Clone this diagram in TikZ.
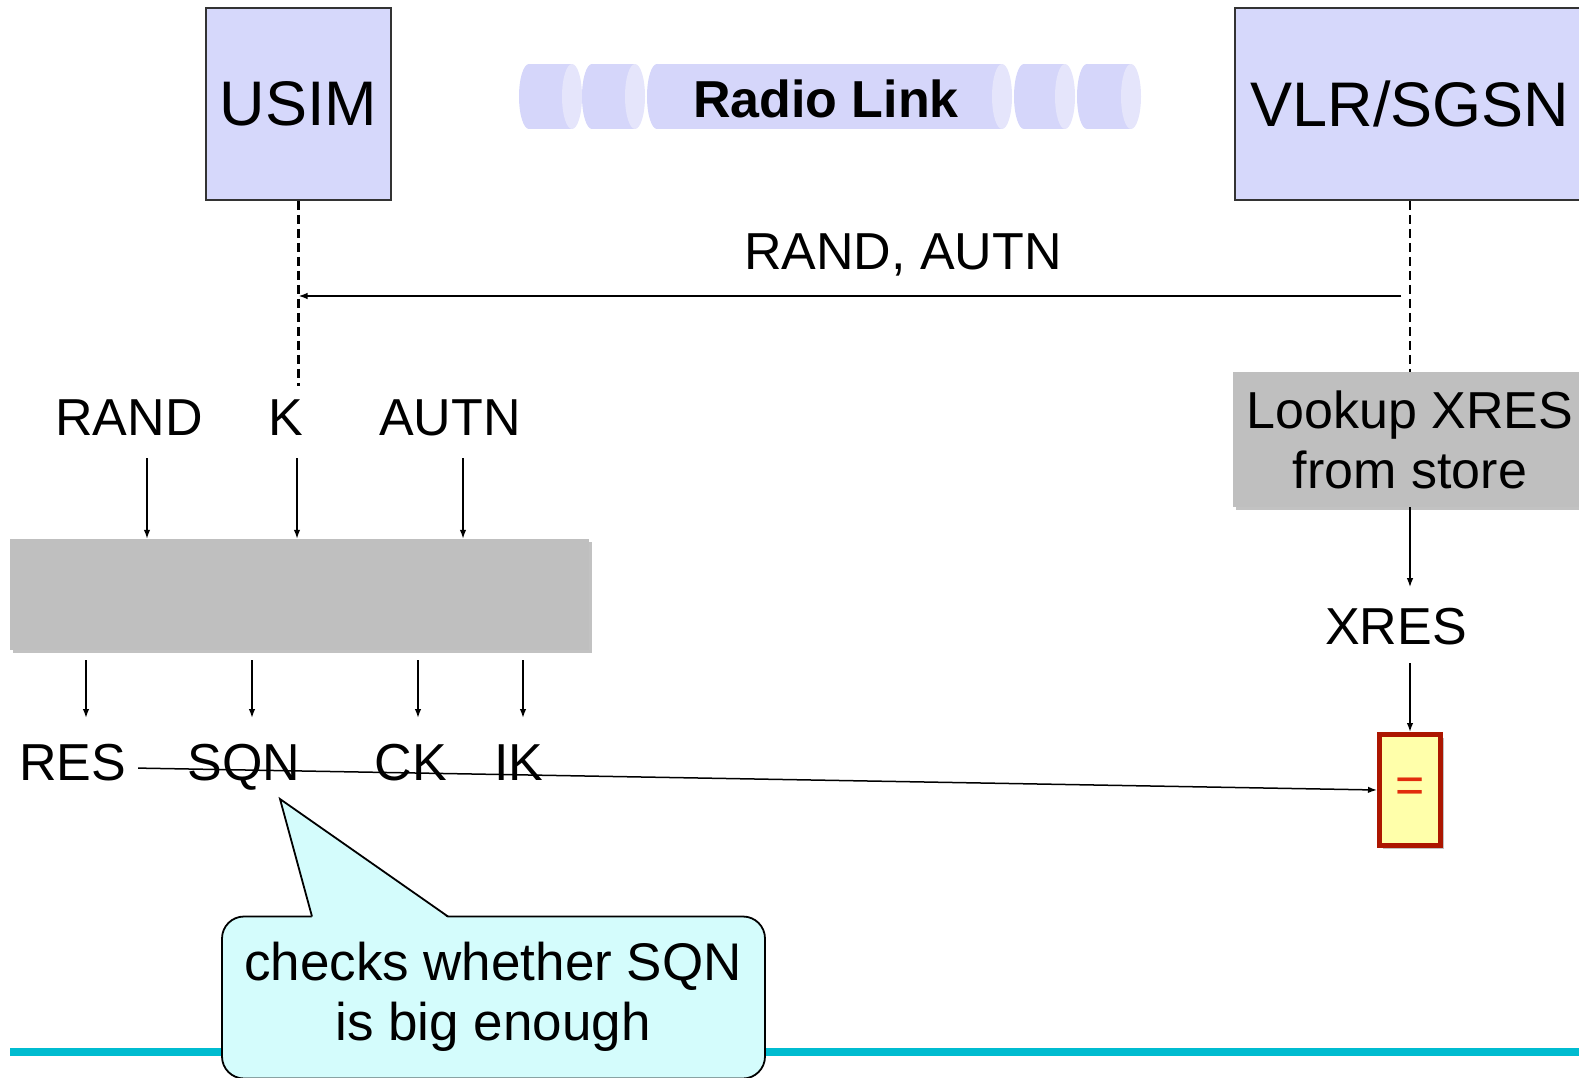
\documentclass[tikz,border=0pt]{standalone}
\usepackage{fontspec}
\setmainfont{Liberation Sans}
\usetikzlibrary{arrows.meta,shadows}
\definecolor{boxblue}{RGB}{214,216,251}
\definecolor{cylbody}{RGB}{213,214,250}
\definecolor{cylcap}{RGB}{229,229,251}
\definecolor{procgray}{RGB}{191,191,191}
\definecolor{eqred}{RGB}{172,22,0}
\definecolor{eqfill}{RGB}{255,255,170}
\definecolor{eqsign}{RGB}{226,44,12}
\definecolor{notecyan}{RGB}{212,252,252}
\definecolor{rulecyan}{RGB}{0,188,208}

\begin{document}
\begin{tikzpicture}[x=1pt,y=-1pt,
  entity/.style={draw=black!80, line width=1.8pt, fill=boxblue, inner sep=0,
                 font=\fontsize{63}{70}\selectfont},
  lbl/.style={inner sep=0, anchor=base, font=\fontsize{52}{60}\selectfont},
  proc/.style={fill=procgray, inner sep=0,
               drop shadow={shadow xshift=3pt, shadow yshift=-3pt, opacity=0.4, fill=black!60}},
  arr/.style={line width=1.5pt, -{Latex[length=9pt,width=6.5pt]}},
  life/.style={line width=2.2pt, dash pattern=on 9pt off 5pt},
]
\useasboundingbox (0,0) rectangle (1579,1078);
\clip (0,0) rectangle (1579,1078);

% entities
\node[entity, minimum width=185pt, minimum height=192pt] (usim) at (298.5,104) {USIM};
\node[entity, minimum width=350pt, minimum height=192pt] (vlr) at (1410,104) {VLR/SGSN};

% radio link cylinders
\foreach \xl/\xr in {519/582, 582/645, 647/1012, 1014/1075, 1077/1141} {
  \fill[cylbody] (\xl+10,96.5) ellipse[x radius=10, y radius=32.5];
  \fill[cylbody] (\xl+10,64) rectangle (\xr-10,129);
  \fill[cylcap] (\xr-10,96.5) ellipse[x radius=10, y radius=32.5];
}
\node[inner sep=0, anchor=base, font=\bfseries\fontsize{52}{60}\selectfont] (radio) at (826,118) {Radio Link};

% lifelines
\coordinate (usimend) at (298.5,386);
\draw[life] (usim.south) -- (usimend);
\node[proc, minimum width=354pt, minimum height=135pt, align=center,
      font=\fontsize{52}{60}\selectfont] (lookup) at (1410,439.5) {Lookup XRES\\from store};
\draw[life] (vlr.south) -- (lookup.north);

% challenge message
\coordinate (msgsrc) at (1401,296);
\draw[arr] (msgsrc) -- (msgsrc -| usim.south);
\node[lbl] (msglbl) at (903,269) {RAND, AUTN};

% USIM computation
\node[lbl] (rand) at (129,435) {RAND};
\node[lbl] (k) at (286,435) {K};
\node[lbl] (autn) at (450,435) {AUTN};
\node[proc, minimum width=579pt, minimum height=111pt] (kdf) at (299.5,594.5) {};
\coordinate (inR) at (147,458);
\coordinate (inK) at (297,458);
\coordinate (inA) at (463,458);
\draw[arr] (inR) -- (inR |- kdf.north);
\draw[arr] (inK) -- (inK |- kdf.north);
\draw[arr] (inA) -- (inA |- kdf.north);

\node[lbl] (res) at (72.5,780) {RES};
\node[lbl] (sqn) at (244,780) {SQN};
\node[lbl] (ck) at (411,780) {CK};
\node[lbl] (ik) at (519,780) {IK};
\coordinate (outR) at (86,660);
\coordinate (outS) at (252,660);
\coordinate (outC) at (418,660);
\coordinate (outI) at (523,660);
\foreach \c in {outR,outS,outC,outI} \draw[arr] (\c) -- ++(0,58);

% network side
\node[lbl] (xres) at (1396,644) {XRES};
\draw[arr] (lookup.south) -- ++(0,80);
\node[draw=eqred, line width=5pt, fill=eqfill, minimum width=61pt, minimum height=111pt,
      inner sep=0, text=eqsign, font=\fontsize{50}{60}\selectfont,
      drop shadow={shadow xshift=3pt, shadow yshift=-3pt, opacity=0.4, fill=black!60}] (eq) at (1410,790) {=};
\coordinate (xresout) at (1410,663);
\draw[arr] (xresout) -- (eq.north);
\draw[arr] ([xshift=12pt,yshift=-6pt]res.east) -- (eq.west);

% bottom rule
\draw[rulecyan, line width=8pt] (10,1052) -- (1579,1052);

% callout
\node[draw=black, line width=1.8pt, fill=notecyan, rounded corners=22pt,
      minimum width=543pt, minimum height=162pt, inner sep=0] (note) at (493.5,997.5) {};
\coordinate (tip) at (280,799);
\fill[notecyan] (312,918) -- (tip) -- (448,918) -- cycle;
\draw[line width=1.8pt] (312,916.5) -- (tip) -- (448,916.5);
\node[inner sep=0, align=center, font=\fontsize{53}{60}\selectfont] (notetext) at (493,997) {checks whether SQN\\is big enough};
\end{tikzpicture}
\end{document}
